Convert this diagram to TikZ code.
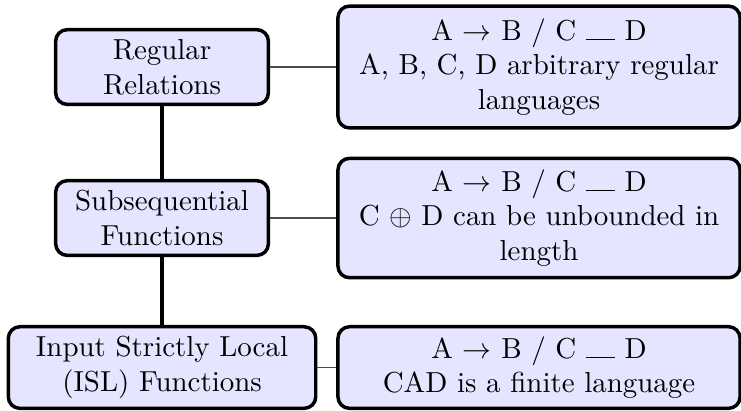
\documentclass[tikz,border=0pt]{standalone}
\usepackage{amsmath,amssymb}
\usepackage{xcolor}
\usepackage{tikz}
\usetikzlibrary{arrows.meta, positioning}

\newcommand{\gap}{\rule{10pt}{0.4pt}}

\begin{document}
\begin{tikzpicture}[
    classbox/.style={
        rectangle, rounded corners=4pt,
        draw=black, very thick, fill=blue!10,
        text width=2.35cm, align=flush center,
        inner sep=3.33pt
    },
    rulebox/.style={
        rectangle, rounded corners=4pt,
        draw=black, very thick, fill=blue!10,
        text width=4.65cm, align=flush center,
        inner sep=3.33pt
    },
    spine/.style={very thick},
    link/.style={draw=black!70, thin},
]
\useasboundingbox (0,0) rectangle (9.0,4.98);

% Classi
\node[classbox] (regular) at (1.968,4.166) {Regular Relations};
\node[classbox] (subseq)  at (1.968,2.332) {Subsequential Functions};
\node[classbox, text width=3.5cm] (isl) at (1.968,0.516)
    {Input Strictly Local (ISL) Functions};

% Regole
\node[rulebox, minimum height=1.48cm] (regularnote) at (6.547,4.166)
    {A $\rightarrow$ B / C \gap{} D\\A, B, C, D arbitrary regular languages};
\node[rulebox, minimum height=1.45cm] (subseqnote) at (6.547,2.332)
    {A $\rightarrow$ B / C \gap{} D\\C $\oplus$ D can be unbounded in length};
\node[rulebox] (islnote) at (6.547,0.516)
    {A $\rightarrow$ B / C \gap{} D\\CAD is a finite language};

% Gerarchia
\draw[spine] (regular) -- (subseq);
\draw[spine] (subseq) -- (isl);

% Collegamenti
\draw[link] (regular) -- (regularnote);
\draw[link] (subseq) -- (subseqnote);
\draw[link] (isl) -- (islnote);

\end{tikzpicture}
\end{document}
